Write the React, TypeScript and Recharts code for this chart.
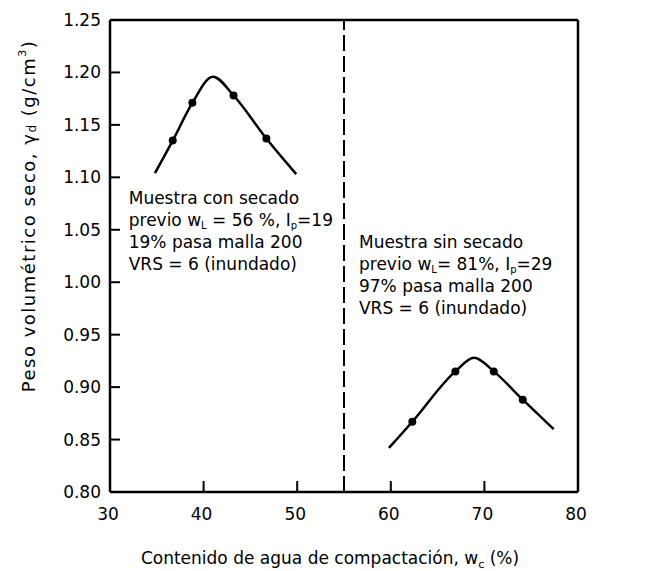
import React from 'react';
import { ComposedChart, Line, Scatter, XAxis, YAxis, ReferenceLine, ReferenceDot } from 'recharts';

// Axes
const xTicks = [30, 40, 50, 60, 70, 80];
const yTicks = [0.8, 0.85, 0.9, 0.95, 1.0, 1.05, 1.1, 1.15, 1.2, 1.25];
const xDomain = [30, 80];
const yDomain = [0.8, 1.25];
const dividerX = 55;

// Muestra con secado previo (curve + measured points)
const leftCurveX = [34.8, 36.7, 38.8, 41.0, 43.2, 46.7, 49.9];
const leftCurveY = [1.104, 1.135, 1.171, 1.196, 1.178, 1.137, 1.103];
const leftPointsX = [36.7, 38.8, 43.2, 46.7];
const leftPointsY = [1.135, 1.171, 1.178, 1.137];

// Muestra sin secado previo (curve + measured points)
const rightCurveX = [59.8, 62.3, 66.9, 68.9, 71.0, 74.1, 77.4];
const rightCurveY = [0.842, 0.867, 0.915, 0.928, 0.915, 0.888, 0.86];
const rightPointsX = [62.3, 66.9, 71.0, 74.1];
const rightPointsY = [0.867, 0.915, 0.915, 0.888];

// Annotation anchors (data coordinates)
const leftNoteAnchor = { x: 32.0, y: 1.08 };
const rightNoteAnchor = { x: 56.6, y: 1.038 };

const zip = (xs: number[], ys: number[]) => xs.map((x, i) => ({ x, y: ys[i] }));
const leftCurve = zip(leftCurveX, leftCurveY);
const leftPoints = zip(leftPointsX, leftPointsY);
const rightCurve = zip(rightCurveX, rightCurveY);
const rightPoints = zip(rightPointsX, rightPointsY);

const FONT = '"DejaVu Sans", sans-serif';
const FS = 17;
const SUB = 10;

const YTick = (props: any) => {
  const { x, y, payload } = props;
  const v = payload.value as number;
  const inner = v > 0.801 && v < 1.249;
  return (
    <g>
      {inner && <line x1={x} x2={x + 10} y1={y} y2={y} stroke="#000" strokeWidth={2} />}
      <text x={x - 9} y={y} dy={6} textAnchor="end" fontSize={FS} fontFamily={FONT} fill="#000">
        {v.toFixed(2)}
      </text>
    </g>
  );
};

const XTick = (props: any) => {
  const { x, y, payload } = props;
  const v = payload.value as number;
  const inner = v > 30.1 && v < 79.9;
  return (
    <g>
      {inner && <line x1={x} x2={x} y1={y} y2={y - 11} stroke="#000" strokeWidth={2} />}
      <text x={x - 2} y={y + 28} textAnchor="middle" fontSize={FS} fontFamily={FONT} fill="#000">
        {v}
      </text>
    </g>
  );
};

const Dot = (props: any) => {
  const { cx, cy } = props;
  return <circle cx={cx} cy={cy} r={4} fill="#000" />;
};

const LeftNote = (props: any) => {
  const { x, y } = props.viewBox;
  const lh = 22;
  return (
    <text x={x} y={y + 6} fontSize={FS} fontFamily={FONT} fill="#000">
      <tspan x={x} dy={0}>Muestra con secado</tspan>
      <tspan x={x} dy={lh}>previo w</tspan>
      <tspan fontSize={SUB} dy={3}>L</tspan>
      <tspan dy={-3}> = 56 %, I</tspan>
      <tspan fontSize={SUB} dy={3}>p</tspan>
      <tspan dy={-3}>=19</tspan>
      <tspan x={x} dy={lh}>19% pasa malla 200</tspan>
      <tspan x={x} dy={lh}>VRS = 6 (inundado)</tspan>
    </text>
  );
};

const RightNote = (props: any) => {
  const { x, y } = props.viewBox;
  const lh = 22;
  return (
    <text x={x} y={y + 6} fontSize={FS} fontFamily={FONT} fill="#000">
      <tspan x={x} dy={0}>Muestra sin secado</tspan>
      <tspan x={x} dy={lh}>previo w</tspan>
      <tspan fontSize={SUB} dy={3}>L</tspan>
      <tspan dy={-3}>= 81%, I</tspan>
      <tspan fontSize={SUB} dy={3}>p</tspan>
      <tspan dy={-3}>=29</tspan>
      <tspan x={x} dy={lh}>97% pasa malla 200</tspan>
      <tspan x={x} dy={lh}>VRS = 6 (inundado)</tspan>
    </text>
  );
};

const YTitle = (props: any) => {
  const { x, y, height } = props.viewBox;
  const cx = x + 20;
  const cy = y + height / 2 - 40;
  return (
    <text
      x={cx}
      y={cy}
      transform={`rotate(-90 ${cx} ${cy})`}
      textAnchor="middle"
      dominantBaseline="central"
      fontSize={18}
      letterSpacing={1.5}
      fontFamily={FONT}
      fill="#000"
    >
      Peso volumétrico seco, γ<tspan fontSize={12} dy={4}>d</tspan>
      <tspan dy={-4}> (g/cm</tspan>
      <tspan fontSize={11} dy={-6}>3</tspan>
      <tspan dy={6}>)</tspan>
    </text>
  );
};

const XTitle = (props: any) => {
  const { x, y, width } = props.viewBox;
  const cx = x + width / 2 - 14;
  return (
    <text x={cx} y={y + 72} textAnchor="middle" fontSize={FS} fontFamily={FONT} fill="#000">
      Contenido de agua de compactación, w<tspan fontSize={11} dy={4}>c</tspan>
      <tspan dy={-4}> (%)</tspan>
    </text>
  );
};

export default function App() {
  return (
    <div style={{ width: 630, height: 563, background: '#fff' }}>
      <ComposedChart
        width={630}
        height={563}
        margin={{ top: 12, right: 60, bottom: 0, left: 0 }}
        style={{ fontFamily: FONT }}
      >
        <XAxis
          dataKey="x"
          type="number"
          domain={xDomain}
          ticks={xTicks}
          allowDataOverflow
          height={79}
          tickLine={false}
          tickSize={0}
          tickMargin={0}
          tick={<XTick />}
          axisLine={{ stroke: '#000', strokeWidth: 2.5 }}
          label={<XTitle />}
        />
        <YAxis
          dataKey="y"
          type="number"
          domain={yDomain}
          ticks={yTicks}
          allowDataOverflow
          width={102}
          tickLine={false}
          tickSize={0}
          tickMargin={0}
          tick={<YTick />}
          axisLine={{ stroke: '#000', strokeWidth: 2.5 }}
          label={<YTitle />}
        />
        <ReferenceLine y={1.25} stroke="#000" strokeWidth={2.5} />
        <ReferenceLine x={80} stroke="#000" strokeWidth={2.5} />
        <ReferenceLine x={dividerX} stroke="#000" strokeWidth={2} strokeDasharray="16 5" />
        <Line
          data={leftCurve}
          dataKey="y"
          type="monotone"
          stroke="#000"
          strokeWidth={2.5}
          dot={false}
          activeDot={false}
          isAnimationActive={false}
        />
        <Line
          data={rightCurve}
          dataKey="y"
          type="monotone"
          stroke="#000"
          strokeWidth={2.5}
          dot={false}
          activeDot={false}
          isAnimationActive={false}
        />
        <Scatter data={leftPoints} dataKey="y" shape={<Dot />} isAnimationActive={false} />
        <Scatter data={rightPoints} dataKey="y" shape={<Dot />} isAnimationActive={false} />
        <ReferenceDot x={leftNoteAnchor.x} y={leftNoteAnchor.y} r={0} stroke="none" label={<LeftNote />} />
        <ReferenceDot x={rightNoteAnchor.x} y={rightNoteAnchor.y} r={0} stroke="none" label={<RightNote />} />
      </ComposedChart>
    </div>
  );
}
